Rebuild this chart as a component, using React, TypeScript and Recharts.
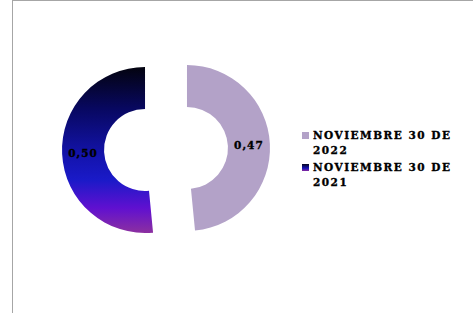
import { PieChart, Pie, Cell, Sector, Legend } from 'recharts'

const categories = ['NOVIEMBRE 30 DE 2022', 'NOVIEMBRE 30 DE 2021']
const values = [0.47, 0.5]
const valueLabels = ['0,47', '0,50']

const data = categories.map((name, i) => ({ name, value: values[i], label: valueLabels[i] }))

const RAD = Math.PI / 180
const EXPLODE = 21

const fills = ['#b3a2c8', 'url(#grad2021)']

const ExplodedSector = (props: any) => {
  const { cx, cy, midAngle } = props
  const dx = Math.cos(-midAngle * RAD) * EXPLODE
  const dy = Math.sin(-midAngle * RAD) * EXPLODE
  return <Sector {...props} cx={cx + dx} cy={cy + dy} stroke="none" />
}

const renderLabel = (props: any) => {
  const { cx, cy, midAngle, innerRadius, outerRadius, index } = props
  const r = (innerRadius + outerRadius) / 2 + EXPLODE
  const x = cx + Math.cos(-midAngle * RAD) * r
  const y = cy + Math.sin(-midAngle * RAD) * r
  return (
    <text
      x={x}
      y={y}
      textAnchor="middle"
      dominantBaseline="central"
      fill="#000"
      stroke="#000"
      strokeWidth={0.35}
      style={{ fontFamily: 'DejaVu Serif', fontWeight: 700, fontSize: 10.5, letterSpacing: 1 }}
    >
      {data[index].label}
    </text>
  )
}

const renderLegend = () => (
  <div
    style={{
      fontFamily: 'DejaVu Serif',
      fontWeight: 700,
      fontSize: 10.5,
      letterSpacing: 1.5,
      color: '#000',
      WebkitTextStroke: '0.35px #000',
    }}
  >
    {data.map((d, i) => (
      <div key={d.name} style={{ position: 'relative', paddingLeft: 11, lineHeight: '15px', marginBottom: 2, width: 160 }}>
        <span
          style={{
            position: 'absolute',
            left: 0,
            top: 4,
            width: 7,
            height: 7,
            background: i === 0 ? '#b3a2c8' : 'linear-gradient(#05051a, #1414b8 60%, #8a2aa0)',
          }}
        />
        {d.name}
      </div>
    ))}
  </div>
)

export default function App() {
  return (
    <div style={{ position: 'absolute', left: 0, top: 0, width: 473, height: 313, background: '#fff', overflow: 'hidden' }}>
      <div
        style={{
          position: 'absolute',
          left: 12,
          top: 0,
          width: 470,
          height: 320,
          borderLeft: '1px solid #a6a6a6',
          borderTop: '1px solid #a6a6a6',
        }}
      />
      <PieChart
        width={473}
        height={313}
        margin={{ top: 0, right: 0, bottom: 0, left: 0 }}
        style={{ position: 'absolute', left: 0, top: 0 }}
      >
        <defs>
          <linearGradient id="grad2021" x1="0" y1="0" x2="0" y2="1">
            <stop offset="0%" stopColor="#03030f" />
            <stop offset="25%" stopColor="#080860" />
            <stop offset="55%" stopColor="#1414b0" />
            <stop offset="68%" stopColor="#1a1ac8" />
            <stop offset="85%" stopColor="#6010d0" />
            <stop offset="100%" stopColor="#8c30a0" />
          </linearGradient>
        </defs>
        <Pie
          data={data}
          dataKey="value"
          nameKey="name"
          cx={166}
          cy={149}
          innerRadius={41}
          outerRadius={83}
          startAngle={90}
          endAngle={-270}
          stroke="none"
          shape={ExplodedSector}
          label={renderLabel}
          labelLine={false}
          isAnimationActive={false}
        >
          {data.map((d, i) => (
            <Cell key={d.name} fill={fills[i]} />
          ))}
        </Pie>
        <Legend
          content={renderLegend}
          wrapperStyle={{ position: 'absolute', left: 302, top: 128, width: 170 }}
        />
      </PieChart>
    </div>
  )
}
